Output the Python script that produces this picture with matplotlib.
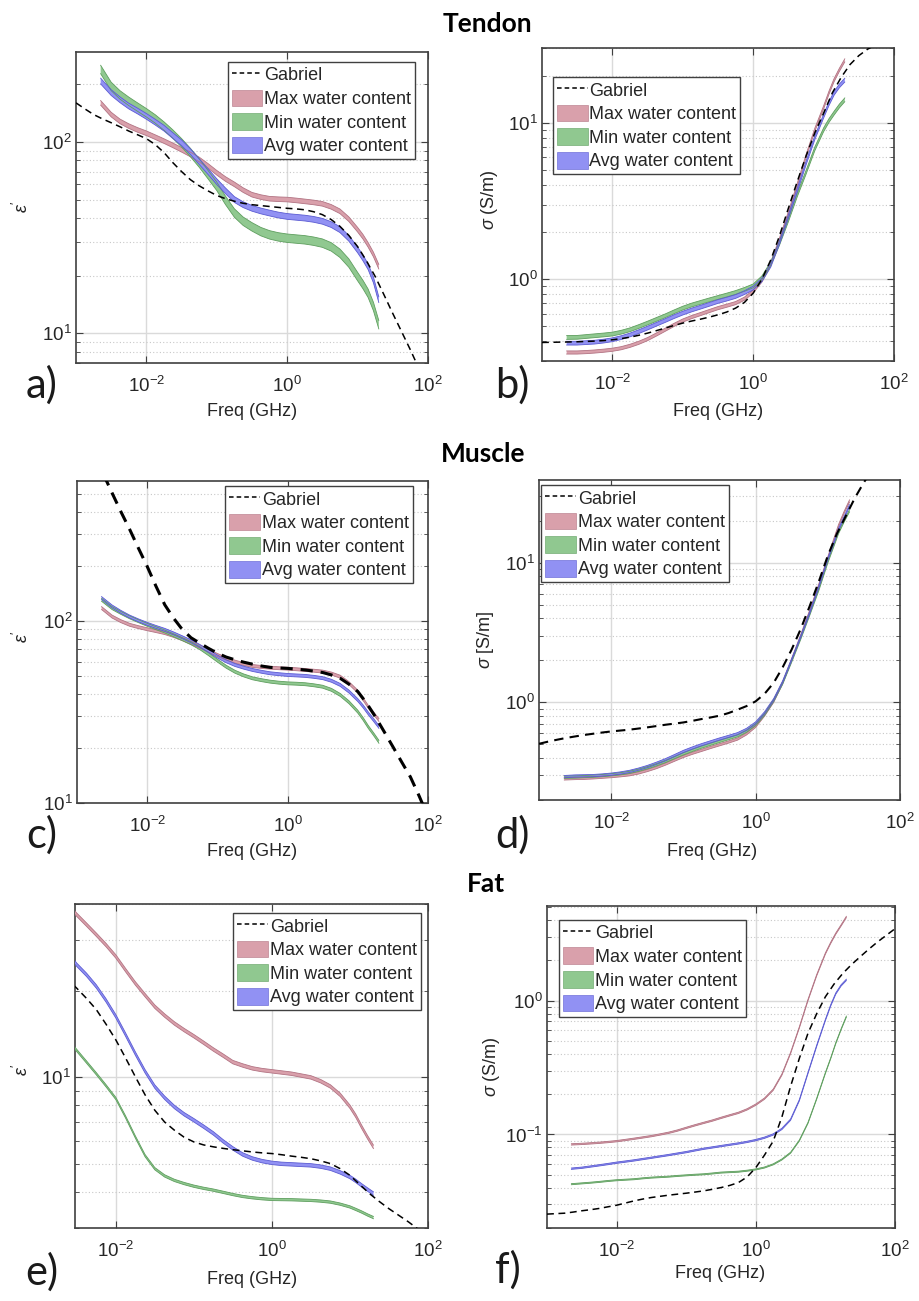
import numpy as np
import matplotlib
matplotlib.use("Agg")
import matplotlib.pyplot as plt
from matplotlib.lines import Line2D
from matplotlib.patches import Patch
from matplotlib.ticker import LogLocator, NullFormatter, FixedLocator, LogFormatterSciNotation

plt.rcParams.update({
    "font.family": ["Liberation Sans", "DejaVu Sans"],
    "mathtext.fontset": "custom",
    "mathtext.rm": "Liberation Sans",
    "mathtext.it": "Liberation Sans:italic",
    "mathtext.bf": "Liberation Sans:bold",
    "axes.unicode_minus": False,
})

# ---------------- data ----------------
# measured frequencies (GHz), shared by all measured bands
f_meas = [0.00224, 0.00316, 0.00422, 0.00562, 0.0075, 0.01, 0.0133, 0.0178, 0.0237,
          0.0316, 0.0422, 0.0562, 0.075, 0.1, 0.133, 0.178, 0.237, 0.316, 0.422,
          0.562, 0.75, 1.0, 1.33, 1.78, 2.37, 3.16, 4.22, 5.62, 7.5, 10.0, 11.9,
          14.1, 16.8, 20.0]
# Gabriel model frequencies (GHz)
f_gab = [0.001, 0.00133, 0.00178, 0.00237, 0.00316, 0.00422, 0.00562, 0.0075,
         0.01, 0.0133, 0.0178, 0.0237, 0.0316, 0.0422, 0.0562, 0.075,
         0.1, 0.133, 0.178, 0.237, 0.316, 0.422, 0.562, 0.75,
         1.0, 1.33, 1.78, 2.37, 3.16, 4.22, 5.62, 7.5,
         10.0, 13.3, 17.8, 23.7, 31.6, 42.2, 56.2, 75.0, 100.0]

# (a) tendon permittivity
ten_eps_max = [160, 139, 128, 121, 115.5, 111, 106, 101, 96, 91, 86, 81, 75, 69, 64, 60, 56,
               53, 51.5, 50.5, 50.2, 50, 49.5, 48.9, 48.3, 47.5, 45.8, 43.4, 39.5, 34.8, 32, 29,
               25.8, 22.3]
ten_eps_min = [239, 195, 176, 163, 152, 142, 132, 121, 110, 99, 88, 77.6, 67.5, 58.6, 49.5,
               42.5, 38.5, 36, 34, 32.7, 31.9, 31.4, 31.1, 30.8, 30.3, 29.6, 28.3, 26.2, 23.3,
               19.8, 18, 16.2, 13.8, 11.1]
ten_eps_avg = [208, 181, 166, 154, 145, 136, 127, 118, 108, 99, 89, 79, 70, 62, 55.5, 50, 47,
               45, 43.6, 42.5, 41.5, 40.8, 40.4, 40, 39.4, 38.5, 37, 34.8, 31.4, 27.3, 24.8, 22.3,
               19, 15]
ten_eps_gab = [160, 149, 139, 132, 126, 120, 114, 109, 104, 97, 88, 78, 70, 63.5, 59, 55.5,
               52.5, 50.5, 49, 47.8, 47, 46.5, 46, 45.5, 45, 44.7, 44.2, 43.2, 41.7, 39.3, 36.2,
               32.5, 28.4, 24, 19.8, 15.9, 12.7, 10.2, 8.2, 6.5, 5.2]

# (b) tendon conductivity
ten_sig_max = [0.34, 0.34, 0.342, 0.345, 0.349, 0.354, 0.362, 0.375, 0.392, 0.414, 0.443, 0.475,
               0.51, 0.544, 0.572, 0.598, 0.625, 0.653, 0.677, 0.703, 0.75, 0.834, 0.98, 1.26,
               1.8, 2.64, 4.0, 6.1, 9.0, 12.5, 15.5, 18.7, 21.8, 25]
ten_sig_min = [0.424, 0.425, 0.43, 0.435, 0.44, 0.446, 0.458, 0.475, 0.498, 0.524, 0.553, 0.583,
               0.618, 0.653, 0.683, 0.71, 0.737, 0.764, 0.792, 0.822, 0.86, 0.906, 1.02, 1.26,
               1.7, 2.39, 3.45, 4.8, 6.8, 9.0, 10.3, 11.5, 12.8, 14.0]
ten_sig_avg = [0.39, 0.39, 0.393, 0.396, 0.402, 0.41, 0.423, 0.44, 0.462, 0.487, 0.515, 0.544,
               0.576, 0.607, 0.635, 0.662, 0.69, 0.72, 0.746, 0.775, 0.82, 0.877, 0.99, 1.23,
               1.72, 2.51, 3.7, 5.5, 8.0, 11.0, 13.2, 15.4, 17.2, 18.7]
ten_sig_gab = [0.394, 0.395, 0.396, 0.397, 0.398, 0.4, 0.402, 0.405, 0.41, 0.417, 0.426, 0.438,
               0.452, 0.469, 0.487, 0.506, 0.524, 0.54, 0.555, 0.572, 0.592, 0.617, 0.653, 0.71,
               0.814, 1.0, 1.33, 1.9, 2.84, 4.2, 6.1, 8.6, 11.5, 15.5, 19.5, 23.5, 26.8, 29.5,
               31.5, 33.3, 35]

# (c) muscle permittivity
mus_eps_max = [118, 106, 100, 95.5, 92.7, 90.3, 88.2, 86, 83, 79.6, 76, 72.5, 68.8, 65.2, 62.3,
               59.9, 58.1, 56.7, 56, 55.5, 55.1, 54.8, 54.4, 53.9, 53.4, 52.8, 51.5, 49.5, 45.6,
               41, 37.3, 33.8, 31.1, 28.6]
mus_eps_min = [131, 118, 111, 105, 100, 95.5, 91.5, 87.7, 83.7, 79.6, 75.5, 71, 65.8, 60.7,
               56.2, 52.7, 50.3, 48.5, 47.4, 46.5, 45.9, 45.5, 45.3, 45, 44.4, 43.6, 41.9, 39.3,
               35.8, 31.8, 29, 26.2, 23.9, 21.7]
mus_eps_avg = [134, 120.5, 112.5, 106, 101, 96.7, 93, 89.6, 85.7, 81.6, 77.5, 73.1, 68.5, 63.9,
               60.2, 57.4, 55.5, 53.9, 52.7, 51.7, 51.1, 50.6, 50.3, 50, 49.4, 48.6, 47, 44.6,
               41, 36.8, 34, 31.1, 28.6, 26.2]
mus_eps_gab = [1280, 1020, 811, 645, 507, 400, 320, 252, 200, 156, 123, 104, 90, 81, 75.7, 70.8,
               66.7, 63.5, 61.3, 59.5, 58, 56.7, 55.7, 55.3, 55, 54.5, 53.9, 53.1, 52.2, 50.6,
               48.5, 45, 41, 35.5, 29.8, 24.7, 20.4, 16.8, 13.9, 10.9, 8.4]

# (d) muscle conductivity
mus_sig_max = [0.283, 0.285, 0.286, 0.288, 0.291, 0.294, 0.298, 0.303, 0.312, 0.325, 0.341,
               0.361, 0.385, 0.41, 0.432, 0.453, 0.475, 0.497, 0.52, 0.546, 0.595, 0.673, 0.81,
               1.017, 1.38, 2.02, 3.0, 4.5, 6.9, 10.8, 14.2, 18.4, 22.8, 27.6]
mus_sig_min = [0.291, 0.292, 0.294, 0.296, 0.299, 0.303, 0.308, 0.315, 0.326, 0.34, 0.357,
               0.377, 0.402, 0.428, 0.453, 0.478, 0.501, 0.525, 0.55, 0.576, 0.622, 0.692, 0.82,
               1.03, 1.37, 1.97, 2.87, 4.26, 6.4, 10.1, 12.9, 16.4, 19.8, 23.5]
mus_sig_avg = [0.294, 0.297, 0.298, 0.299, 0.302, 0.306, 0.312, 0.32, 0.332, 0.347, 0.366,
               0.388, 0.415, 0.445, 0.471, 0.497, 0.521, 0.546, 0.57, 0.596, 0.64, 0.711, 0.84,
               1.045, 1.4, 2.02, 2.95, 4.38, 6.7, 10.6, 13.5, 17.3, 21, 25.5]
mus_sig_gab = [0.505, 0.523, 0.54, 0.556, 0.57, 0.584, 0.596, 0.608, 0.619, 0.628, 0.637, 0.649,
               0.662, 0.676, 0.691, 0.704, 0.718, 0.737, 0.759, 0.779, 0.802, 0.838, 0.886, 0.94,
               1.016, 1.15, 1.38, 1.78, 2.39, 3.35, 4.89, 7.3, 11.2, 16, 21.6, 29, 37.5, 47, 58,
               68, 80]

# (e) fat permittivity
fat_eps_max = [40.8, 36.7, 33.9, 31.3, 28.8, 26.3, 23.6, 21.2, 19.3, 17.6, 16.4, 15.4, 14.6,
               13.9, 13.2, 12.5, 11.9, 11.3, 11.0, 10.75, 10.6, 10.5, 10.4, 10.3, 10.15, 10,
               9.7, 9.3, 8.7, 7.91, 7.35, 6.74, 6.2, 5.74]
fat_eps_min = [13.9, 12.4, 11.3, 10.3, 9.35, 8.45, 7.3, 6.21, 5.35, 4.82, 4.55, 4.39, 4.28,
               4.19, 4.12, 4.06, 3.99, 3.92, 3.86, 3.82, 3.79, 3.77, 3.765, 3.76, 3.75, 3.74,
               3.72, 3.69, 3.63, 3.55, 3.48, 3.41, 3.33, 3.26]
fat_eps_avg = [27.7, 24.6, 22.7, 20.7, 18.5, 16.3, 14.1, 12.1, 10.5, 9.29, 8.5, 7.9, 7.45, 7.1,
               6.75, 6.39, 6.0, 5.67, 5.4, 5.23, 5.12, 5.05, 5.01, 4.99, 4.97, 4.95, 4.9, 4.82,
               4.68, 4.51, 4.37, 4.22, 4.08, 3.95]
fat_eps_gab = [26.3, 25, 23.7, 22, 20.4, 18.8, 17.2, 15.3, 13.5, 11.7, 10.05, 8.7, 7.69, 7.0,
               6.56, 6.2, 5.97, 5.83, 5.74, 5.67, 5.61, 5.56, 5.51, 5.47, 5.44, 5.39, 5.33, 5.28,
               5.22, 5.13, 5.02, 4.82, 4.57, 4.25, 3.95, 3.71, 3.5, 3.32, 3.15, 2.97, 2.79]

# (f) fat conductivity
fat_sig_max = [0.0843, 0.085, 0.0858, 0.0867, 0.0878, 0.0891, 0.0909, 0.0929, 0.095, 0.0972,
               0.1, 0.103, 0.107, 0.112, 0.117, 0.122, 0.127, 0.133, 0.139, 0.145, 0.154, 0.167,
               0.185, 0.216, 0.28, 0.406, 0.63, 1.01, 1.55, 2.25, 2.7, 3.17, 3.65, 4.22]
fat_sig_min = [0.0425, 0.0431, 0.0436, 0.0442, 0.0449, 0.0455, 0.0459, 0.0463, 0.047, 0.0476,
               0.048, 0.0484, 0.049, 0.0495, 0.05, 0.0504, 0.0511, 0.0519, 0.0523, 0.0527,
               0.0536, 0.0548, 0.0566, 0.0598, 0.065, 0.073, 0.09, 0.122, 0.185, 0.288, 0.37,
               0.481, 0.61, 0.76]
fat_sig_avg = [0.0555, 0.0564, 0.0576, 0.0588, 0.0601, 0.0615, 0.0627, 0.064, 0.0655, 0.067,
               0.0686, 0.0702, 0.072, 0.0738, 0.076, 0.0782, 0.08, 0.0819, 0.0838, 0.0857,
               0.088, 0.0908, 0.0945, 0.1, 0.11, 0.129, 0.18, 0.288, 0.46, 0.717, 0.92, 1.13,
               1.3, 1.43]
fat_sig_gab = [0.0254, 0.0256, 0.0258, 0.0263, 0.0269, 0.0274, 0.028, 0.0288, 0.0296, 0.0307,
               0.0319, 0.0329, 0.0338, 0.0345, 0.0352, 0.0358, 0.0364, 0.0371, 0.0379, 0.0389,
               0.0401, 0.0416, 0.0437, 0.0481, 0.0565, 0.07, 0.0892, 0.135, 0.229, 0.37, 0.571,
               0.8, 1.07, 1.33, 1.6, 1.86, 2.13, 2.43, 2.75, 3.08, 3.45]

# half-width of each measured band (decades): max, min, avg
ten_eps_w = (0.012, 0.022, 0.015)
ten_sig_w = (0.010, 0.012, 0.012)
mus_eps_w = (0.008, 0.008, 0.008)
mus_sig_w = (0.008, 0.008, 0.008)
fat_eps_w = (0.006, 0.004, 0.006)
fat_sig_w = (0.005, 0.004, 0.005)

series_labels = ["Max water content", "Min water content", "Avg water content"]
row_titles = ["Tendon", "Muscle", "Fat"]

# ---------------- style ----------------
W, H = 919, 1301
FILL = ["#d9a0ab", "#90c890", "#9191f3"]
EDGE = ["#b27383", "#5e9e5e", "#5b5bd2"]
TXT = "#262626"


def fx(x):
    return x / W


def fy(y):
    return 1 - y / H


fig = plt.figure(figsize=(W / 100, H / 100), dpi=100)

panels = [
    dict(box=(76, 52, 428, 363), d=(ten_eps_max, ten_eps_min, ten_eps_avg, ten_eps_gab), w=ten_eps_w,
         xlim=(1e-3, 1e2), ylim=(7, 295), ylab=r"$\epsilon'$", anchor=(0.963, 0.968), loc="upper right",
         glw=1.1, letter="a)", lpos=(42, 385), xlpos=(252, 411), ylpos=(22, 207)),
    dict(box=(542, 48, 894, 361), d=(ten_sig_max, ten_sig_min, ten_sig_avg, ten_sig_gab), w=ten_sig_w,
         xlim=(1e-3, 1e2), ylim=(0.3, 30), ylab=r"$\sigma$ (S/m)", anchor=(0.031, 0.907), loc="upper left",
         glw=1.1, letter="b)", lpos=(512, 385), xlpos=(718, 411), ylpos=(489, 200)),
    dict(box=(77, 481, 428, 803), d=(mus_eps_max, mus_eps_min, mus_eps_avg, mus_eps_gab), w=mus_eps_w,
         xlim=(1e-3, 1e2), ylim=(10, 590), ylab=r"$\epsilon'$", anchor=(0.957, 0.984), loc="upper right",
         glw=2.2, letter="c)", lpos=(42, 835), xlpos=(252, 851), ylpos=(22, 637)),
    dict(box=(539, 480, 900, 800), d=(mus_sig_max, mus_sig_min, mus_sig_avg, mus_sig_gab), w=mus_sig_w,
         xlim=(1e-3, 1e2), ylim=(0.2, 39), ylab=r"$\sigma$ [S/m]", anchor=(0.006, 0.984), loc="upper left",
         glw=1.5, letter="d)", lpos=(512, 835), xlpos=(712, 851), ylpos=(486, 640)),
    dict(box=(75, 904, 428, 1228), d=(fat_eps_max, fat_eps_min, fat_eps_avg, fat_eps_gab), w=fat_eps_w,
         xlim=(3e-3, 1e2), ylim=(3, 40), ylab=r"$\epsilon'$", anchor=(0.98, 0.972), loc="upper right",
         glw=1.1, letter="e)", lpos=(42, 1272), xlpos=(252, 1279), ylpos=(22, 1070)),
    dict(box=(547, 906, 895, 1228), d=(fat_sig_max, fat_sig_min, fat_sig_avg, fat_sig_gab), w=fat_sig_w,
         xlim=(1e-3, 1e2), ylim=(0.02, 5.1), ylab=r"$\sigma$ (S/m)", anchor=(0.034, 0.957), loc="upper left",
         glw=1.1, letter="f)", lpos=(508, 1270), xlpos=(720, 1273), ylpos=(492, 1067)),
]

fm = np.array(f_meas)
fg = np.array(f_gab)

for p in panels:
    l, t, r, b = p["box"]
    ax = fig.add_axes([fx(l), fy(b), (r - l) / W, (b - t) / H])
    ax.set_xscale("log")
    ax.set_yscale("log")

    vmax, vmin, vavg, vgab = p["d"]
    for k, vals in enumerate((vmax, vmin, vavg)):
        v = np.array(vals)
        w = p["w"][k]
        lo, hi = v * 10 ** (-w), v * 10 ** w
        ax.fill_between(fm, lo, hi, facecolor=FILL[k], edgecolor="none", zorder=3)
        ax.plot(fm, lo, color=EDGE[k], lw=0.6, zorder=3.1)
        ax.plot(fm, hi, color=EDGE[k], lw=0.6, zorder=3.1)

    dash = (4, 2.6) if p["glw"] > 2 else (4.5, 3)
    ax.plot(fg, vgab, color="black", lw=p["glw"], ls=(0, dash), zorder=4)

    ax.set_xlim(*p["xlim"])
    ax.set_ylim(*p["ylim"])

    ax.xaxis.set_major_locator(FixedLocator([1e-2, 1e0, 1e2]))
    ax.xaxis.set_major_formatter(LogFormatterSciNotation())
    ax.xaxis.set_minor_locator(FixedLocator([]))
    ax.yaxis.set_major_locator(LogLocator(base=10, numticks=12))
    ax.yaxis.set_minor_locator(LogLocator(base=10, subs=np.arange(2, 10), numticks=12))
    ax.yaxis.set_minor_formatter(NullFormatter())

    ax.grid(True, which="major", color="#dadada", lw=1.0, ls="-", zorder=0)
    ax.grid(True, which="minor", axis="y", color="#c8c8c8", lw=0.8, ls=(0, (1, 2)), zorder=0)
    ax.set_axisbelow(True)

    ax.tick_params(which="both", direction="in", top=True, right=True, colors="#404040",
                   labelcolor=TXT, labelsize=13.5)
    ax.tick_params(which="major", length=5, width=0.8)
    ax.tick_params(which="minor", length=3, width=0.6)
    ax.tick_params(axis="x", pad=9)
    ax.tick_params(axis="y", pad=3)
    for s in ax.spines.values():
        s.set_color("#404040")
        s.set_linewidth(1.2)

    handles = [Line2D([], [], color="black", lw=1.1, ls=(0, (3, 2)))]
    handles += [Patch(facecolor=FILL[k], edgecolor=EDGE[k], lw=0.4) for k in range(3)]
    leg = ax.legend(handles, ["Gabriel"] + series_labels, loc=p["loc"], bbox_to_anchor=p["anchor"],
                    borderaxespad=0, fontsize=13, frameon=True, fancybox=False, framealpha=1,
                    edgecolor="#404040", handlelength=1.7, handleheight=1.05, handletextpad=0.1,
                    labelspacing=0.28, borderpad=0.22)
    leg.get_frame().set_linewidth(1.0)
    leg.set_zorder(10)
    for txt in leg.get_texts():
        txt.set_color(TXT)

    fig.text(fx(p["xlpos"][0]), fy(p["xlpos"][1]), "Freq (GHz)", ha="center", va="center",
             fontsize=13, color=TXT)
    fig.text(fx(p["ylpos"][0]), fy(p["ylpos"][1]), p["ylab"], ha="center", va="center",
             rotation=90, fontsize=13, color=TXT)
    fig.text(fx(p["lpos"][0]), fy(p["lpos"][1]), p["letter"], ha="center", va="center",
             fontsize=30, color="#1a1a1a", family=["Lato", "DejaVu Sans"])

for name, (x, y) in zip(row_titles, [(487, 24), (483, 454), (486, 884)]):
    fig.text(fx(x), fy(y), name, ha="center", va="center", fontsize=19, fontweight="bold",
             color="black", family=["Lato", "DejaVu Sans"])

fig.savefig("out.png", dpi=100)
